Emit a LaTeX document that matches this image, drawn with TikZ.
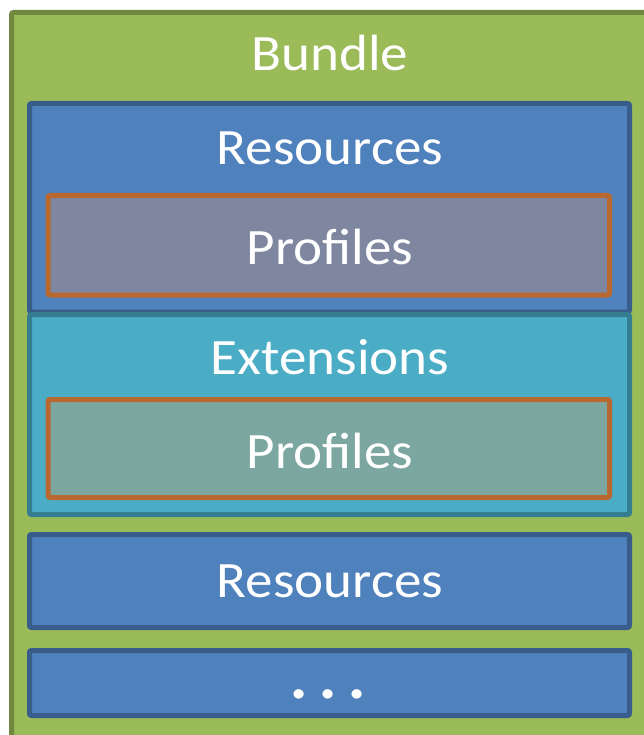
\documentclass[tikz,border=0pt]{standalone}
\usepackage{fontspec}
\setmainfont{Carlito}[FakeStretch=1.08]
\definecolor{bundlefill}{HTML}{9BBB59}
\definecolor{bundleline}{HTML}{71893F}
\definecolor{resfill}{HTML}{4F81BD}
\definecolor{resline}{HTML}{385D8A}
\definecolor{extfill}{HTML}{4BACC6}
\definecolor{extline}{HTML}{357D91}
\definecolor{proline}{HTML}{B9692F}
\definecolor{profillA}{HTML}{7F87A0}
\definecolor{profillB}{HTML}{7BA7A0}
\tikzset{
  panel/.style={line width=5pt, rounded corners=2pt},
  respanel/.style={panel, fill=resfill, draw=resline},
  extpanel/.style={panel, fill=extfill, draw=extline},
  propanel/.style={panel, draw=proline},
  label/.style={text=white, font=\fontsize{51}{60}\selectfont, inner sep=0pt, anchor=base}
}
\begin{document}
\begin{tikzpicture}[x=1pt, y=-1pt]
  \useasboundingbox (0,0) rectangle (644,735);
  \begin{scope}
    \clip (0,0) rectangle (644,735);
    % outer bundle frame, running past the right and lower edges
    \draw[panel, fill=bundlefill, draw=bundleline] (11.5,12.5) rectangle (660,750);
  \end{scope}
  \node[label] (bundle) at (330,71) {Bundle};

  % first resources block with its profiles
  \draw[respanel] (29.5,103.5) rectangle (629.5,312);
  \node[label] (res1) at (330,165) {Resources};
  \draw[propanel, fill=profillA] (48,195.5) rectangle (609.5,295);
  \node[label] (pro1) at (330,264) {Profiles};

  % extensions block with its profiles
  \draw[extpanel] (29.5,314.5) rectangle (629.5,514.5);
  \node[label] (ext) at (330,374) {Extensions};
  \draw[propanel, fill=profillB] (48,399.5) rectangle (609.5,497.5);
  \node[label] (pro2) at (330,468) {Profiles};

  % second resources block
  \draw[respanel] (29.5,534.5) rectangle (629.5,627.5);
  \node[label] (res2) at (330,597) {Resources};

  % remaining blocks
  \draw[respanel] (29.5,650.5) rectangle (629.5,715.5);
  \node[label, font=\fontsize{78}{78}\selectfont] (more) at (328,698) {.\hspace{8pt}.\hspace{8pt}.};
\end{tikzpicture}
\end{document}
